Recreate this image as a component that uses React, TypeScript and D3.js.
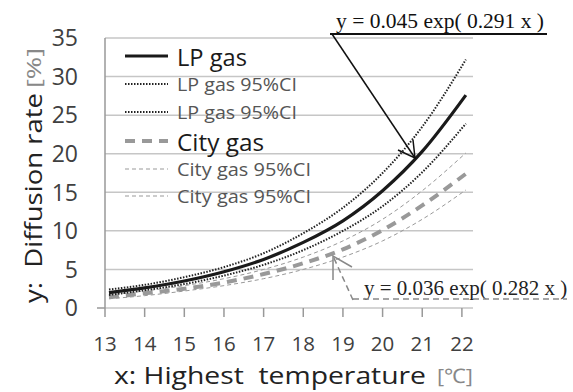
import React from 'react';
import * as d3 from 'd3';

const temps = [13.1, 14, 15, 16, 17, 18, 19, 20, 21, 22.1];
const lpGas = [2.0, 2.6, 3.5, 4.7, 6.3, 8.5, 11.3, 15.2, 20.3, 27.6];
const lpUpper = [2.4, 3.0, 4.0, 5.3, 7.1, 9.7, 13.0, 17.5, 23.5, 32.2];
const lpLower = [1.7, 2.3, 3.1, 4.2, 5.6, 7.5, 10.0, 13.2, 17.6, 23.9];
const cityGas = [1.4, 1.9, 2.5, 3.3, 4.4, 5.8, 7.6, 10.1, 13.3, 17.4];
const cityUpper = [1.7, 2.2, 2.9, 3.8, 5.0, 6.6, 8.7, 11.5, 15.2, 20.1];
const cityLower = [1.2, 1.6, 2.2, 2.9, 3.8, 5.0, 6.6, 8.7, 11.5, 15.3];

const xTicks = [13, 14, 15, 16, 17, 18, 19, 20, 21, 22];
const yTicks = [0, 5, 10, 15, 20, 25, 30, 35];

const legendLabels = ['LP gas', 'LP gas 95%CI', 'LP gas 95%CI', 'City gas', 'City gas 95%CI', 'City gas 95%CI'];

const styles = [
  { color: '#1a1a1a', width: 3.2, dash: '', size: 24, text: '#1a1a1a', len: 70 },
  { color: '#222', width: 2, dash: '1.5,1.5', size: 18, text: '#555', len: 120 },
  { color: '#222', width: 2, dash: '1.5,1.5', size: 18, text: '#555', len: 120 },
  { color: '#999', width: 4, dash: '10,7', size: 24, text: '#1a1a1a', len: 87 },
  { color: '#999', width: 1, dash: '4,3', size: 18, text: '#555', len: 134 },
  { color: '#999', width: 1, dash: '4,3', size: 18, text: '#555', len: 134 },
];
const legendY = [56, 84, 112, 141, 169, 196];

const font = '"Open Sans", sans-serif';
const serif = '"Liberation Serif", "Times New Roman", serif';

export default function App() {
  const left = 105, right = 473, top = 38, bottom = 308;
  const x = d3.scaleLinear().domain([13, 22.28]).range([left, right]);
  const y = d3.scaleLinear().domain([0, 35]).range([bottom, top]);

  const mk = (vals: number[]) =>
    d3.line<number>()
      .x((_, i) => x(temps[i]))
      .y(d => y(d))
      .curve(d3.curveMonotoneX)(vals) || '';

  const allSeries = [lpGas, lpUpper, lpLower, cityGas, cityUpper, cityLower];
  const drawOrder = [5, 4, 3, 2, 1, 0];

  return (
    <svg width={573} height={392} style={{ position: 'absolute', left: 0, top: 0, background: '#fff' }}>
      {/* grid */}
      {yTicks.map(t => (
        <line key={'g' + t} x1={left} x2={right} y1={y(t)} y2={y(t)} stroke="#c6c6c6" strokeWidth={1.5} />
      ))}
      <line x1={left} x2={left} y1={top} y2={bottom + 9} stroke="#999" strokeWidth={1.5} />
      {xTicks.slice(1).map(t => (
        <line key={'xt' + t} x1={x(t)} x2={x(t)} y1={bottom} y2={bottom + 9} stroke="#999" strokeWidth={1.5} />
      ))}
      <line x1={left - 8} x2={left} y1={y(0)} y2={y(0)} stroke="#999" strokeWidth={1.5} />

      {/* tick labels */}
      {yTicks.map(t => (
        <text key={'yl' + t} x={78} y={y(t)} dy="0.36em" textAnchor="end" fontFamily={font} fontSize={23} fill="#404040">{t}</text>
      ))}
      {xTicks.map(t => (
        <text key={'xl' + t} x={x(t)} y={344} dy="0.36em" textAnchor="middle" fontFamily={font} fontSize={20.5} fill="#404040">{t}</text>
      ))}

      {/* axis titles */}
      <text x={114} y={384} fontFamily={font} fontSize={24.5} fill="#222" textLength={312} lengthAdjust="spacingAndGlyphs">
        {'x: Highest\u00a0 temperature'}
      </text>
      <text x={437} y={383} fontFamily={font} fontSize={20} fill="#888" textLength={36} lengthAdjust="spacingAndGlyphs">[℃]</text>
      <g transform="translate(42,0) rotate(-90)">
        <text x={-303} y={0} fontFamily={font} fontSize={24.5} fill="#222" textLength={210} lengthAdjust="spacingAndGlyphs">
          {'y:\u00a0 Diffusion rate'}
        </text>
        <text x={-88} y={-1} fontFamily={font} fontSize={20} fill="#888" textLength={40} lengthAdjust="spacingAndGlyphs">[%]</text>
      </g>

      {/* series */}
      {drawOrder.map(i => (
        <path key={'s' + i} d={mk(allSeries[i])} fill="none" stroke={styles[i].color}
          strokeWidth={styles[i].width} strokeDasharray={styles[i].dash || undefined} />
      ))}

      {/* legend */}
      {legendLabels.map((label, i) => {
        const st = styles[i];
        const ly = legendY[i];
        return (
          <g key={'lg' + i}>
            <line x1={125} x2={168} y1={ly} y2={ly} stroke={st.color} strokeWidth={st.width} strokeDasharray={st.dash || undefined} />
            <text x={177} y={ly + 1} dy="0.36em" fontFamily={font} fontSize={st.size} fill={st.text}
              textLength={st.len} lengthAdjust="spacingAndGlyphs">{label}</text>
          </g>
        );
      })}

      {/* annotation LP gas */}
      <text x={336} y={28} fontFamily={serif} fontSize={21.5} fill="#111">y = 0.045 exp( 0.291 x )</text>
      <line x1={330} x2={547} y1={34} y2={34} stroke="#111" strokeWidth={2} />
      <line x1={332} y1={34} x2={415} y2={158} stroke="#111" strokeWidth={1.5} />
      <polyline points="398,150 415,158 413,140" fill="none" stroke="#111" strokeWidth={1.5} />

      {/* annotation City gas */}
      <text x={364} y={295} fontFamily={serif} fontSize={21} fill="#222">y = 0.036 exp( 0.282 x )</text>
      <line x1={353} x2={567} y1={299} y2={299} stroke="#888" strokeWidth={1.5} strokeDasharray="6,4" />
      <line x1={353} y1={300} x2={333} y2={256} stroke="#888" strokeWidth={1.5} strokeDasharray="6,4" />
      <polyline points="333,280 333,256 352,267" fill="none" stroke="#888" strokeWidth={1.5} />
    </svg>
  );
}
